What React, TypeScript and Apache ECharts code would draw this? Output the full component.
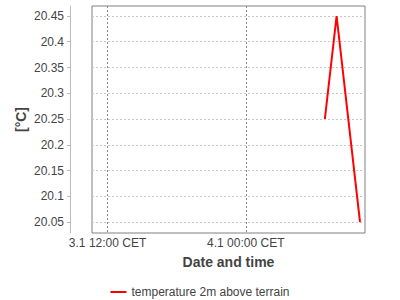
import React, { useEffect, useRef } from "react";
import * as echarts from "echarts";

const FONT = "Liberation Sans";

// Observation times (CET, stored as UTC values) and temperatures
const times = [
  Date.UTC(2024, 0, 4, 6, 52),
  Date.UTC(2024, 0, 4, 7, 53),
  Date.UTC(2024, 0, 4, 9, 55),
];
const temps = [20.25, 20.45, 20.05];

const xTicks = [Date.UTC(2024, 0, 3, 12, 0), Date.UTC(2024, 0, 4, 0, 0)];
const yTicks = [20.05, 20.1, 20.15, 20.2, 20.25, 20.3, 20.35, 20.4, 20.45];

const xMin = Date.UTC(2024, 0, 3, 10, 39);
const xMax = Date.UTC(2024, 0, 4, 10, 21);
const yMin = 20.0287;
const yMax = 20.4694;

const seriesName = "temperature 2m above terrain";

const pad = (n: number) => (n < 10 ? "0" + n : "" + n);
const fmtTime = (v: number) => {
  const d = new Date(v);
  return `${d.getUTCDate()}.${d.getUTCMonth() + 1} ${pad(d.getUTCHours())}:${pad(
    d.getUTCMinutes()
  )} CET`;
};

export default function App() {
  const ref = useRef<HTMLDivElement>(null);
  useEffect(() => {
    if (!ref.current) return;
    const chart = echarts.init(ref.current, undefined, { renderer: "svg" });
    chart.setOption({
      animation: false,
      color: ["#ff0000"],
      backgroundColor: "#ffffff",
      textStyle: { fontFamily: FONT },
      grid: {
        left: 92,
        top: 6,
        right: 35,
        bottom: 67,
        show: true,
        borderColor: "#808080",
        borderWidth: 1,
        backgroundColor: "#ffffff",
      },
      xAxis: {
        type: "value",
        min: xMin,
        max: xMax,
        name: "Date and time",
        nameLocation: "middle",
        nameGap: 22,
        nameMoveOverlap: false,
        nameTextStyle: { fontFamily: FONT, fontSize: 14, fontWeight: "bold", color: "#444" },
        axisLine: { show: false },
        axisTick: { show: false, customValues: xTicks },
        axisLabel: {
          customValues: xTicks,
          formatter: (v: number) => fmtTime(v),
          fontFamily: FONT,
          fontSize: 12,
          color: "#444",
          margin: 4,
        },
        splitLine: {
          show: true,
          lineStyle: { color: "#888", type: [2, 2], width: 1 },
        },
      },
      yAxis: {
        type: "value",
        min: yMin,
        max: yMax,
        offset: 22,
        name: "[°C]",
        nameLocation: "middle",
        nameGap: 42,
        nameMoveOverlap: false,
        nameRotate: 90,
        nameTextStyle: { fontFamily: FONT, fontSize: 14, fontWeight: "bold", color: "#444" },
        axisLine: { show: true, lineStyle: { color: "#bbb", width: 1 } },
        axisTick: { show: true, length: 3, customValues: yTicks, lineStyle: { color: "#bbb" } },
        axisLabel: {
          customValues: yTicks,
          fontFamily: FONT,
          fontSize: 12,
          color: "#444",
          margin: 6,
        },
        splitLine: {
          show: true,
          lineStyle: { color: "#c8c8c8", type: [2, 2], width: 1 },
        },
      },
      legend: {
        left: "center",
        top: 281,
        icon: "rect",
        itemWidth: 16,
        itemHeight: 2,
        itemGap: 10,
        itemStyle: { color: "#ff0000" },
        textStyle: { fontFamily: FONT, fontSize: 12, color: "#444" },
        data: [seriesName],
      },
      series: [
        {
          name: seriesName,
          type: "line",
          color: "#ff0000",
          data: times.map((t, i) => [t, temps[i]]),
          showSymbol: false,
          lineStyle: { color: "#ff0000", width: 2 },
          itemStyle: { color: "#ff0000" },
        },
      ],
    });
    return () => chart.dispose();
  }, []);
  return (
    <div
      ref={ref}
      style={{ position: "fixed", left: 0, top: 0, width: 400, height: 300 }}
    />
  );
}
